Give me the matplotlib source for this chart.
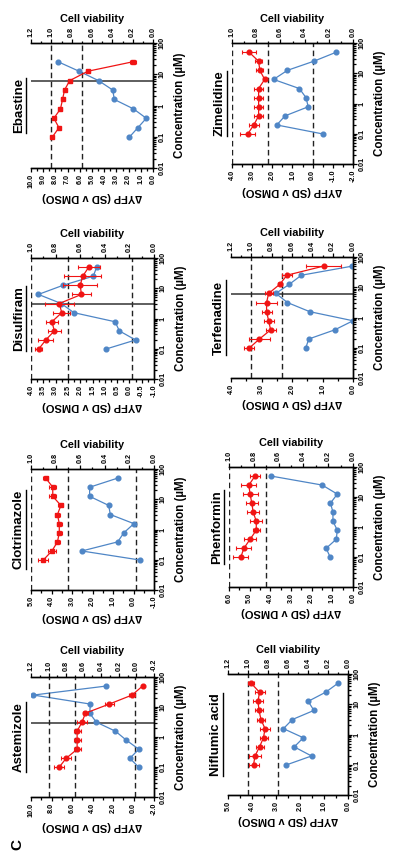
import numpy as np
import matplotlib.pyplot as plt
from matplotlib.ticker import MultipleLocator, FixedLocator, FuncFormatter, LogLocator, NullFormatter

plt.rcParams['font.family'] = ['Liberation Sans', 'DejaVu Sans']
plt.rcParams['font.weight'] = 'bold'
plt.rcParams['axes.labelweight'] = 'bold'

# concentrations (uM), 2-fold dilutions
conc = [0.098, 0.195, 0.39, 0.78, 1.56, 3.125, 6.25, 12.5, 25, 50]

# blue = dYFP (bottom axis), red = cell viability (top axis)
ebastine_yfp = [1.93, 1.24, 0.55, 1.6, 3.17, 3.3, 4.46, 6.06, 7.77]
ebastine_via = [0.99, 0.925, 0.975, 0.91, 0.89, 0.87, 0.82, 0.64, 0.20]
ebastine_err = [0.01, 0.01, 0.01, 0.01, 0.015, 0.015, 0.02, 0.02, 0.03]

zimelidine_yfp = [-0.52, 1.78, 1.37, 0.22, 0.33, 0.66, 1.94, 1.25, -0.06, -1.18]
zimelidine_via = [0.87, 0.82, 0.78, 0.78, 0.78, 0.78, 0.73, 0.77, 0.78, 0.86]
zimelidine_err = [0.06, 0.04, 0.04, 0.04, 0.04, 0.04, 0.01, 0.03, 0.03, 0.06]

disulfiram_yfp = [0.95, -0.25, 0.41, 0.58, 2.26, 2.77, 3.7, 2.7, 1.47, 1.33]
disulfiram_via = [0.937, 0.88, 0.81, 0.83, 0.75, 0.77, 0.59, 0.60, 0.58, 0.53]
disulfiram_err = [0.03, 0.06, 0.05, 0.05, 0.07, 0.12, 0.075, 0.14, 0.15, 0.09]

terfenadine_yfp = [1.55, 1.45, 0.6, 0.0, 1.42, 2.15, 2.53, 2.09, 1.69, 0.02]
terfenadine_via = [1.02, 0.92, 0.81, 0.83, 0.85, 0.85, 0.83, 0.72, 0.65, 0.29]
terfenadine_err = [0.05, 0.1, 0.05, 0.05, 0.05, 0.1, 0.04, 0.02, 0.05, 0.17]

clotrimazole_yfp = [-0.31, 2.52, 0.77, 0.47, -0.02, 1.13, 1.21, 2.14, 2.14, 0.77]
clotrimazole_via = [0.90, 0.83, 0.785, 0.77, 0.77, 0.785, 0.757, 0.823, 0.823, 0.88]
clotrimazole_err = [0.04, 0.03, 0.02, 0.02, 0.02, 0.02, 0.02, 0.03, 0.03, 0.02]

phenformin_yfp = [1.1, 1.3, 0.81, 0.76, 0.97, 0.97, 1.09, 0.76, 1.49, 3.97]
phenformin_via = [0.905, 0.88, 0.83, 0.78, 0.78, 0.805, 0.816, 0.83, 0.84, 0.79]
phenformin_err = [0.06, 0.06, 0.05, 0.03, 0.05, 0.05, 0.05, 0.06, 0.06, 0.04]

astemizole_yfp = [-0.52, 0.36, -0.52, 0.69, 1.76, 3.63, 4.28, 4.2, 9.77, 2.65]
astemizole_via = [0.88, 0.80, 0.675, 0.675, 0.675, 0.62, 0.58, 0.31, 0.05, -0.07]
astemizole_err = [0.06, 0.06, 0.04, 0.04, 0.04, 0.06, 0.03, 0.05, 0.03, 0.01]

niflumic_yfp = [2.58, 1.52, 2.24, 1.86, 2.69, 2.32, 1.42, 1.66, 0.93, 0.41]
niflumic_via = [0.945, 0.93, 0.885, 0.845, 0.83, 0.87, 0.89, 0.90, 0.885, 0.97]
niflumic_err = [0.05, 0.06, 0.04, 0.04, 0.05, 0.04, 0.04, 0.05, 0.05, 0.03]

blue = '#4f86c6'
red = '#f01414'

W, H = 398, 866
fig = plt.figure(figsize=(W / 100, H / 100), dpi=100)


def box(l, t, r, b):
    return [l / W, 1 - b / H, (r - l) / W, (b - t) / H]


names = []


def panel(name, rect, yfp, via, err, yfp_lim, yfp_step, via_lim, yfp_cut=None, ic=None, mk='o'):
    ax = fig.add_axes(box(*rect))
    c = conc[:len(yfp)]
    ax.set_yscale('log')
    ax.plot(yfp, c, '-o', color=blue, ms=3.4, lw=0.9, zorder=3)
    ax.set_ylim(0.01, 100)
    ax.set_xlim(*yfp_lim)
    ax.xaxis.set_major_locator(MultipleLocator(yfp_step))
    ax.xaxis.set_minor_locator(MultipleLocator(yfp_step / 2))
    ax.xaxis.set_major_formatter(FuncFormatter(lambda v, p: '%.1f' % (0 if abs(v) < 1e-9 else v)))
    ax.yaxis.set_major_locator(FixedLocator([0.01, 0.1, 1, 10, 100]))
    ax.yaxis.set_minor_locator(LogLocator(subs=range(2, 10)))
    ax.yaxis.set_minor_formatter(NullFormatter())
    ax.yaxis.set_major_formatter(FuncFormatter(lambda v, p: '%g' % v))
    ax.yaxis.tick_right()
    ax.yaxis.set_label_position('right')
    ax.tick_params(which='both', direction='out', width=0.9, labelsize=5.2, pad=1)
    ax.tick_params(which='major', length=3)
    ax.tick_params(which='minor', length=1.8)
    ax.tick_params(axis='x', labelrotation=90)
    ax.tick_params(axis='y', labelrotation=90)
    for lb in ax.get_yticklabels():
        lb.set_va('center')
    ax.set_xlabel('\u2206YFP (SD v DMSO)', rotation=180, fontsize=8, labelpad=3)
    ax.set_ylabel('Concentration (\u00b5M)', fontsize=8.3, labelpad=6)
    if yfp_cut is not None:
        ax.axvline(yfp_cut, color='#222222', ls=(0, (4, 2.5)), lw=1.0)
    if ic is not None:
        ax.axhline(ic, color='#333333', lw=1.1, zorder=2)

    ax2 = ax.twiny()
    ax2.set_xlim(*via_lim)
    ax2.errorbar(via, c, xerr=err, fmt='-' + mk, color=red, ms=3.4, lw=0.9,
                 elinewidth=0.8, capsize=1.6, capthick=0.8, zorder=4)
    ax2.xaxis.set_major_locator(MultipleLocator(0.2))
    ax2.xaxis.set_minor_locator(MultipleLocator(0.1))
    ax2.xaxis.set_major_formatter(FuncFormatter(lambda v, p: '%.1f' % (0 if abs(v) < 1e-9 else v)))
    ax2.tick_params(which='both', direction='out', width=0.9, labelsize=5.2, pad=1, labelrotation=90)
    ax2.tick_params(which='major', length=3)
    ax2.tick_params(which='minor', length=1.8)
    ax2.set_xlabel('Cell viability', fontsize=7.8, labelpad=4)
    ax2.axvline(1.0, color='#222222', ls=(0, (4, 2.5)), lw=1.0)
    ax2.axvline(0.7, color='#222222', ls=(0, (4, 2.5)), lw=1.0)

    for a in (ax, ax2):
        a.spines['left'].set_visible(False)
        for s in ('top', 'bottom', 'right'):
            a.spines[s].set_linewidth(1.0)

    t = fig.text((rect[0] - 12) / W, 1 - (rect[1] + rect[3]) / 2 / H, name, rotation=90,
                 fontsize=9.5, fontweight='bold', ha='center', va='center')
    names.append(t)


panel('Ebastine', (31, 43, 153, 168), ebastine_yfp, ebastine_via, ebastine_err,
      (10, 0), 1.0, (1.2, 0), ic=6.0, mk='s')
panel('Zimelidine', (232, 43, 353, 164), zimelidine_yfp, zimelidine_via, zimelidine_err,
      (4, -2), 1.0, (1.0, 0), yfp_cut=0.0)
panel('Disulfiram', (31, 258, 154, 379), disulfiram_yfp, disulfiram_via, disulfiram_err,
      (4, -1), 0.5, (1.0, 0), yfp_cut=-0.1, ic=3.0)
panel('Terfenadine', (231, 257, 353, 378), terfenadine_yfp, terfenadine_via, terfenadine_err,
      (4, 0), 1.0, (1.2, 0), ic=6.1)
panel('Clotrimazole', (31, 469, 154, 590), clotrimazole_yfp, clotrimazole_via, clotrimazole_err,
      (5, -1), 1.0, (1.0, 0), yfp_cut=-0.1, mk='s')
panel('Phenformin', (229, 467, 353, 587), phenformin_yfp, phenformin_via, phenformin_err,
      (6, 0), 1.0, (1.0, 0))
panel('Astemizole', (31, 677, 154, 797), astemizole_yfp, astemizole_via, astemizole_err,
      (10, -2), 2.0, (1.2, -0.2), yfp_cut=-0.1, ic=3.0)
panel('Niflumic acid', (228, 674, 348, 795), niflumic_yfp, niflumic_via, niflumic_err,
      (5, 0), 1.0, (1.2, 0))

fig.text(17 / W, 1 - 845 / H, 'C', rotation=90, fontsize=11, fontweight='bold',
         ha='center', va='center')

# underline drug names
fig.canvas.draw()
for t in names:
    bb = t.get_window_extent()
    x = (bb.x1 + 1) / fig.bbox.width
    fig.add_artist(plt.Line2D([x, x], [bb.y0 / fig.bbox.height, bb.y1 / fig.bbox.height],
                              transform=fig.transFigure, color='black', lw=1.0))

fig.savefig('out.png', dpi=100)
